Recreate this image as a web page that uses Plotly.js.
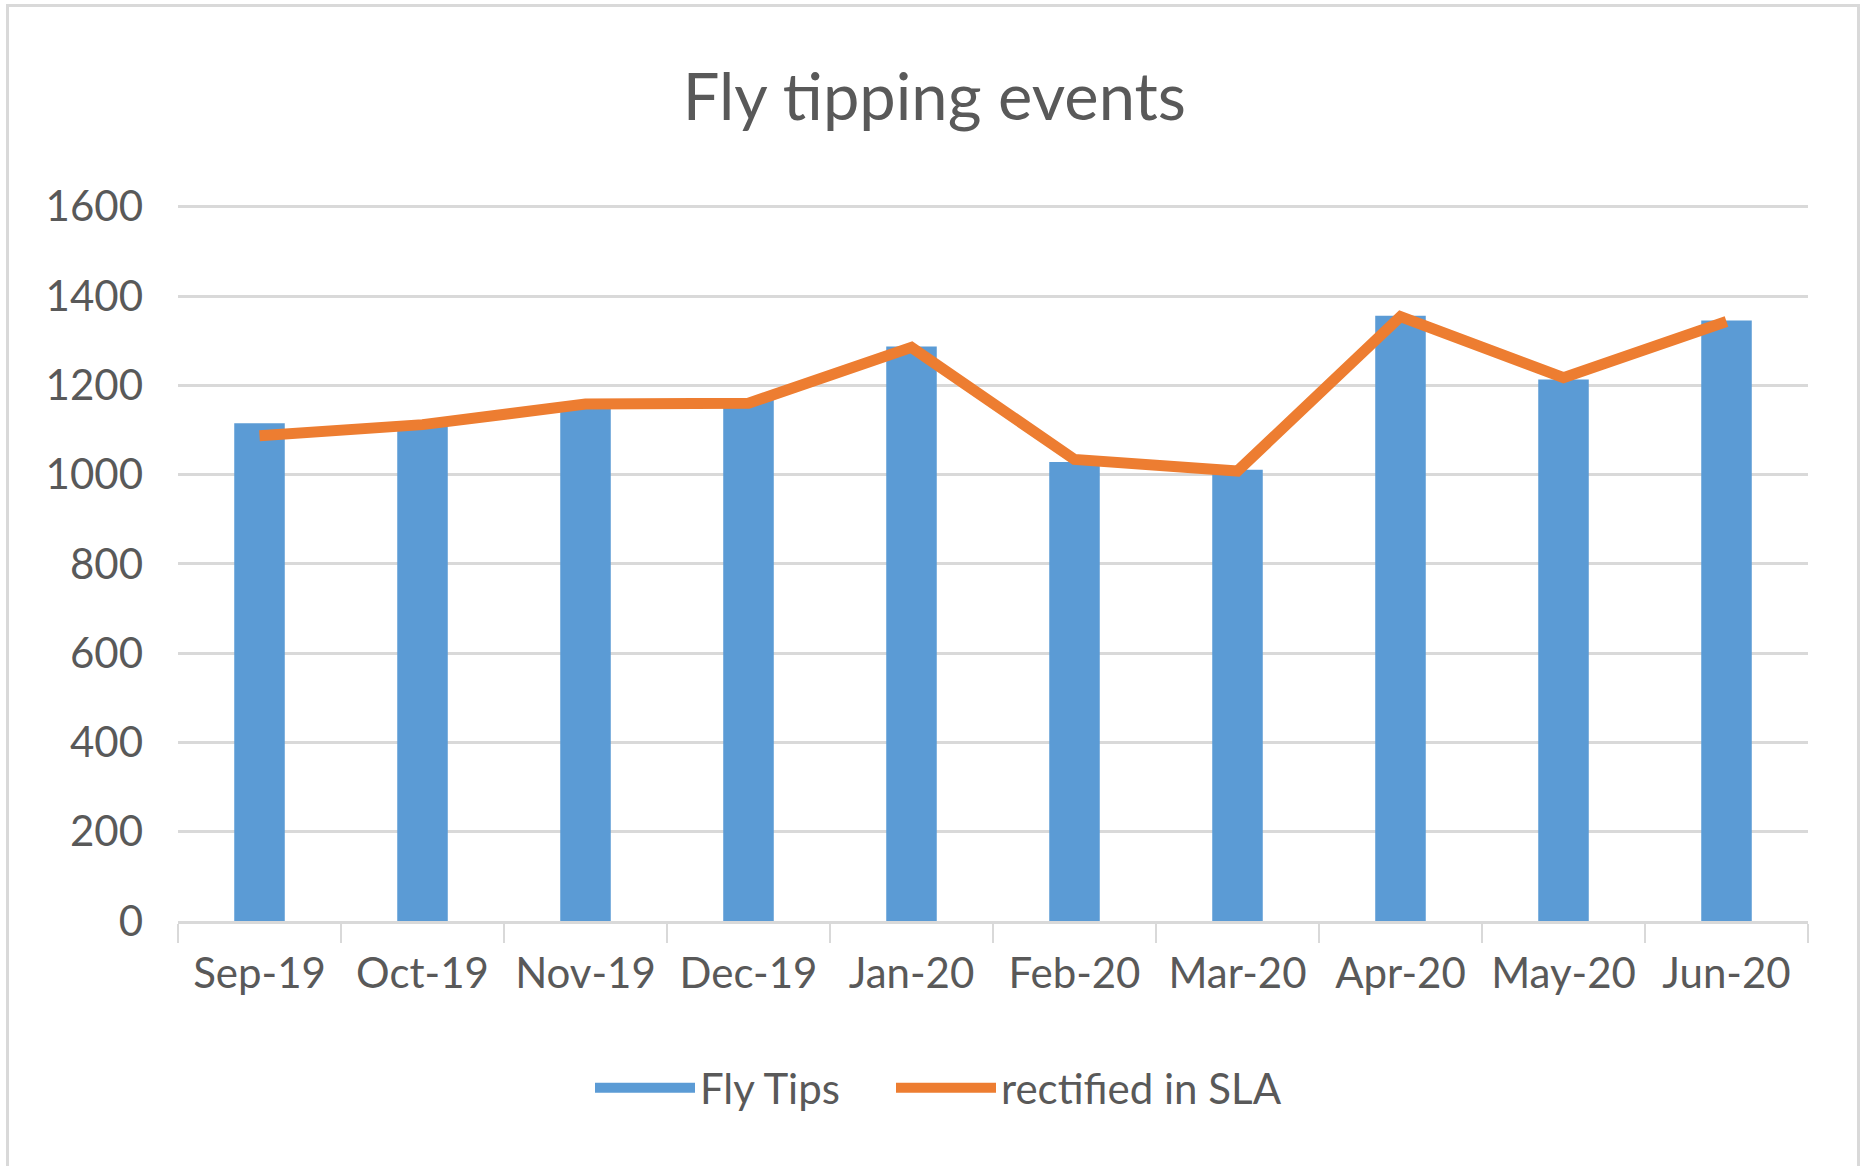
<!DOCTYPE html>
<html>
<head>
<meta charset="utf-8">
<script src="https://cdn.plot.ly/plotly-3.0.1.min.js"></script>
<style>
  html, body { margin: 0; padding: 0; background: #ffffff; }
  #chart { position: absolute; left: 0; top: 0; width: 1865px; height: 1166px; }
  #frame { position: absolute; left: 6px; top: 4px; width: 1848px; height: 1200px;
           border: 3px solid #D9D9D9; pointer-events: none; }
</style>
</head>
<body>
<div id="chart"></div>
<div id="frame"></div>
<script>
const months = ["Sep-19", "Oct-19", "Nov-19", "Dec-19", "Jan-20", "Feb-20", "Mar-20", "Apr-20", "May-20", "Jun-20"];
const flyTips = [1115, 1108, 1150, 1168, 1287, 1028, 1011, 1356, 1213, 1345];
const rectifiedInSLA = [1087, 1112, 1158, 1160, 1285, 1034, 1008, 1354, 1217, 1343];
const yTicks = [0, 200, 400, 600, 800, 1000, 1200, 1400, 1600];

const FONT = "Lato, 'Open Sans', sans-serif";
const TXT = "#595959";
const BLUE = "#5B9BD5";
const ORANGE = "#ED7D31";

const traces = [
  {
    type: "bar", name: "Fly Tips", x: months, y: flyTips,
    marker: { color: BLUE }, showlegend: false, legendgroup: "tips"
  },
  {
    type: "scatter", mode: "lines", name: "rectified in SLA", x: months, y: rectifiedInSLA,
    line: { color: ORANGE, width: 11 }, showlegend: false, legendgroup: "sla"
  },
  // legend-only entries (wide swatches as in the original)
  {
    type: "scatter", mode: "lines", name: "Fly Tips", x: [null], y: [null],
    line: { color: BLUE, width: 26 }, legendgroup: "tips", legend: "legend", hoverinfo: "skip"
  },
  {
    type: "scatter", mode: "lines", name: "rectified in SLA", x: [null], y: [null],
    line: { color: ORANGE, width: 12 }, legendgroup: "sla", legend: "legend2", hoverinfo: "skip"
  }
];

const legendCommon = {
  orientation: "h",
  xanchor: "left", xref: "container",
  y: 1 - 1088 / 1166, yanchor: "middle", yref: "container",
  font: { family: FONT, size: 42, color: TXT },
  itemwidth: 100,
  bgcolor: "rgba(0,0,0,0)"
};

const layout = {
  width: 1865, height: 1166,
  paper_bgcolor: "#ffffff", plot_bgcolor: "#ffffff",
  margin: { l: 178, r: 57, t: 205, b: 245 },
  bargap: 0.69,
  font: { family: FONT, color: TXT, size: 42 },
  title: {
    text: "Fly tipping events",
    font: { family: FONT, size: 65, color: TXT },
    x: 0.501, xanchor: "center", xref: "container",
    y: 1 - 97 / 1166, yanchor: "middle", yref: "container"
  },
  xaxis: {
    type: "category",
    tickson: "boundaries",
    ticks: "outside", ticklen: 19, tickwidth: 2, tickcolor: "#D9D9D9",
    showline: true, linecolor: "#D9D9D9", linewidth: 3,
    showgrid: false, zeroline: false,
    ticklabelstandoff: 14,
    tickfont: { family: FONT, size: 42, color: TXT }
  },
  yaxis: {
    range: [0, 1604],
    tickmode: "array", tickvals: yTicks, ticktext: yTicks.map(String),
    showgrid: true, gridcolor: "#D9D9D9", gridwidth: 3,
    zeroline: false, showline: false, ticks: "",
    ticklabelstandoff: 34,
    tickfont: { family: FONT, size: 42, color: TXT }
  },
  showlegend: true,
  legend: Object.assign({}, legendCommon, { x: 590 / 1865 }),
  legend2: Object.assign({}, legendCommon, { x: 891 / 1865 })
};

Plotly.newPlot("chart", traces, layout, { displayModeBar: false, staticPlot: true });
</script>
</body>
</html>
